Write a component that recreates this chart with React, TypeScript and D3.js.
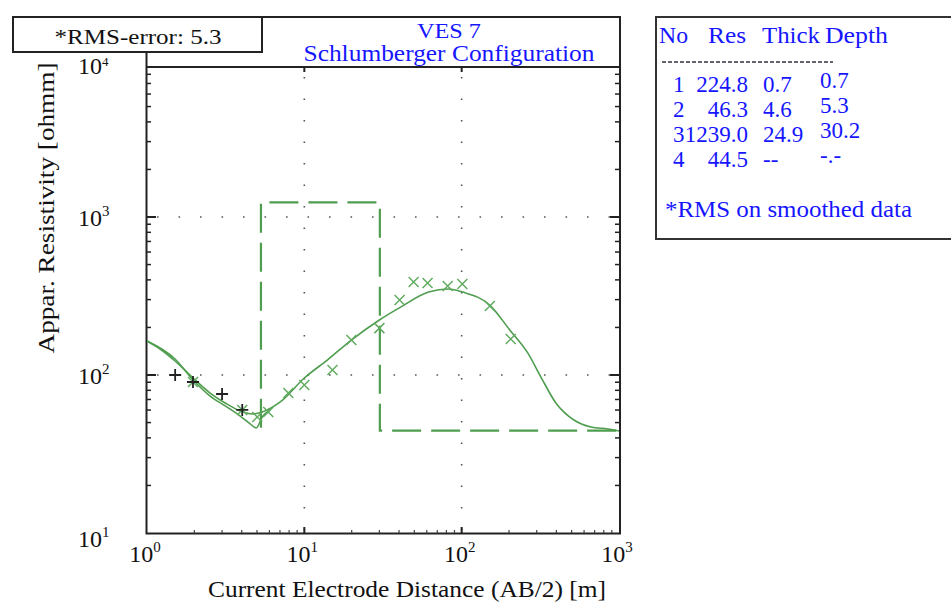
import React from "react";
import * as d3 from "d3";

// ---------- data ----------
const layerNo = [1, 2, 3, 4];
const layerRes = [224.8, 46.3, 1239.0, 44.5];
const layerThick = ["0.7", "4.6", "24.9", "--"];
const layerDepthLabel = ["0.7", "5.3", "30.2", "-.-"];
const layerDepth = [0.7, 5.3, 30.2];

// field data (green x)
const fieldAB = [1.96, 4.03, 5.02, 5.9, 7.91, 10.0, 15.1, 19.9, 30.0, 40.3, 49.5, 60.7, 81.5, 101, 151, 205];
const fieldRho = [90.3, 60.1, 54.2, 58.4, 76.9, 86.5, 107.5, 166.6, 198, 298, 388, 382, 366, 377, 273, 169];

// raw / excluded data (black +)
const rawAB = [1.51, 1.96, 3.0, 4.03];
const rawRho = [100, 90.3, 75.8, 60.1];

// model response curve
const modelAB = [1.0, 1.21, 1.508, 1.963, 2.519, 3.139, 3.912, 4.665, 5.4, 7.03, 10.0, 14.0, 19.9, 30.0, 40.9, 61.6, 82.6, 101.5, 150.8, 202, 263, 319, 397, 517, 663, 851, 1000];
const modelRho = [164.1, 146.1, 122.6, 95.7, 76.9, 66.5, 59.2, 56.6, 58.3, 67.5, 95.7, 124.4, 166.5, 223, 269, 335, 350, 335, 277, 193, 138, 97.1, 66.5, 51.9, 46.9, 45.5, 44.2];

// smoothed data curve (left part)
const smoothAB = [1.0, 1.508, 1.963, 2.519, 3.139, 3.912, 4.53, 4.95, 5.4, 6.07];
const smoothRho = [164.1, 126.3, 93.0, 73.6, 63.7, 55.0, 49.0, 46.2, 54.2, 60.0];

const xMajor = [1, 10, 100, 1000];
const xMajorExp = ["0", "1", "2", "3"];
const yMajor = [10, 100, 1000, 10000];
const yMajorExp = ["1", "2", "3", "4"];

const titleLines = ["VES 7", "Schlumberger Configuration"];
const rmsText = "*RMS-error: 5.3";
const tableHeader = ["No", "Res", "Thick", "Depth"];
const tableNote = "*RMS on smoothed data";
const xTitle = "Current Electrode Distance (AB/2) [m]";
const yTitle = "Appar. Resistivity [ohmm]";

// ---------- layout ----------
const W = 951;
const H = 607;
const L = 147;
const R = 619;
const PT = 67; // plot top (below title band)
const FT = 17; // frame top
const B = 533;

const FONT = "'Liberation Serif', 'Times New Roman', serif";
const BLUE = "#1515ff";
const GREEN = "#4f9d4f";
const GREEN_M = "#62ab62";

export default function App() {
  const x = d3.scaleLog().domain([1, 1000]).range([L, R]);
  const y = d3.scaleLog().domain([10, 10000]).range([B, PT - 8]);

  const minorX: number[] = [];
  for (let dec = 1; dec < 1000; dec *= 10) for (let k = 2; k <= 9; k++) minorX.push(k * dec);
  const minorY: number[] = [];
  for (let dec = 10; dec < 10000; dec *= 10)
    for (let k = 2; k <= 9; k++) if (y(k * dec) > PT + 1) minorY.push(k * dec);

  const lineSmooth = d3
    .line<[number, number]>()
    .x((d) => x(d[0]))
    .y((d) => y(d[1]))
    .curve(d3.curveMonotoneX);
  const lineLin = d3
    .line<[number, number]>()
    .x((d) => x(d[0]))
    .y((d) => y(d[1]));

  const modelPts: [number, number][] = modelAB.map((a, i) => [a, modelRho[i]]);
  const smoothPts: [number, number][] = smoothAB.map((a, i) => [a, smoothRho[i]]);

  // layered model step (visible from depth of layer 2)
  const stepPts: [number, number][] = [
    [layerDepth[1], layerRes[1]],
    [layerDepth[1], layerRes[2]],
    [layerDepth[2], layerRes[2]],
    [layerDepth[2], layerRes[3]],
    [1000, layerRes[3]],
  ];

  const gridX = [10, 100];
  const gridY = [100, 1000];

  const tableRowY = [92, 117, 142, 167];

  return (
    <svg
      width={W}
      height={H}
      style={{ position: "absolute", left: 0, top: 0, background: "#fff" }}
      fontFamily={FONT}
    >
      <rect x={0} y={0} width={W} height={H} fill="#fff" />
      <defs>
        <clipPath id="plot">
          <rect x={L} y={PT} width={R - L} height={B - PT} />
        </clipPath>
      </defs>

      {/* grid */}
      {gridX.map((g) => (
        <line key={"gx" + g} x1={x(g)} x2={x(g)} y1={PT + 10} y2={B} stroke="#555" strokeWidth={1.6} strokeDasharray="1.6 19.9" />
      ))}
      {gridY.map((g) => (
        <line key={"gy" + g} x1={L} x2={R} y1={y(g)} y2={y(g)} stroke="#555" strokeWidth={1.6} strokeDasharray="1.6 19.9" strokeDashoffset={-10} />
      ))}

      {/* frame */}
      <rect x={L - 0.5} y={FT} width={R - L + 1.5} height={B - FT + 0.5} fill="none" stroke="#222" strokeWidth={2} />
      <line x1={L} x2={R + 1} y1={PT} y2={PT} stroke="#222" strokeWidth={2} />

      {/* ticks */}
      {yMajor.filter((v) => y(v) > PT && y(v) < B).map((v) => (
        <g key={"ym" + v}>
          <line x1={L} x2={L + 9} y1={y(v)} y2={y(v)} stroke="#222" strokeWidth={2} />
          <line x1={R - 9} x2={R} y1={y(v)} y2={y(v)} stroke="#222" strokeWidth={2} />
        </g>
      ))}
      {minorY.map((v) => (
        <g key={"yn" + v}>
          <line x1={L} x2={L + 4} y1={y(v)} y2={y(v)} stroke="#222" strokeWidth={1.5} />
          <line x1={R - 4} x2={R} y1={y(v)} y2={y(v)} stroke="#222" strokeWidth={1.5} />
        </g>
      ))}
      {xMajor.filter((v) => x(v) > L && x(v) < R).map((v) => (
        <g key={"xm" + v}>
          <line x1={x(v)} x2={x(v)} y1={B} y2={B - 6} stroke="#222" strokeWidth={2} />
          <line x1={x(v)} x2={x(v)} y1={PT} y2={PT + 5} stroke="#222" strokeWidth={2} />
        </g>
      ))}
      {minorX.map((v) => (
        <line key={"xn" + v} x1={x(v)} x2={x(v)} y1={B} y2={B - 3} stroke="#444" strokeWidth={1.2} />
      ))}

      {/* curves */}
      <g clipPath="url(#plot)">
        <path d={lineLin(stepPts) || ""} fill="none" stroke={GREEN} strokeWidth={2.2} strokeDasharray="29 10" />
        <path d={lineSmooth(smoothPts) || ""} fill="none" stroke={GREEN} strokeWidth={1.6} />
        <path d={lineSmooth(modelPts) || ""} fill="none" stroke={GREEN} strokeWidth={1.6} />
        {fieldAB.map((a, i) => {
          const cx = x(a);
          const cy = y(fieldRho[i]);
          const s = 5;
          return (
            <path
              key={"f" + i}
              d={`M${cx - s},${cy - s}L${cx + s},${cy + s}M${cx - s},${cy + s}L${cx + s},${cy - s}`}
              stroke={GREEN_M}
              strokeWidth={1.5}
              fill="none"
            />
          );
        })}
        {rawAB.map((a, i) => {
          const cx = x(a);
          const cy = y(rawRho[i]);
          const s = 6;
          return (
            <path
              key={"r" + i}
              d={`M${cx - s},${cy}L${cx + s},${cy}M${cx},${cy - s}L${cx},${cy + s}`}
              stroke="#222"
              strokeWidth={1.8}
              fill="none"
            />
          );
        })}
      </g>

      {/* x tick labels */}
      {xMajor.map((v, i) => (
        <text key={"xl" + v} x={x(v) - 2} y={562} fontSize={24} textAnchor="middle" fill="#111">
          10
          <tspan fontSize={15} dy={-10}>
            {xMajorExp[i]}
          </tspan>
        </text>
      ))}
      {/* y tick labels */}
      {yMajor.map((v, i) => (
        <text key={"yl" + v} x={78} y={y(v) + 9 + (i === 0 ? 5 : 0) + (i === 3 ? 6 : 0)} fontSize={24} fill="#111">
          10
          <tspan fontSize={i === 3 ? 13 : 15} dy={i === 3 ? -8 : -10}>
            {yMajorExp[i]}
          </tspan>
        </text>
      ))}

      {/* axis titles */}
      <text x={407} y={597} fontSize={24} textAnchor="middle" fill="#111" textLength={398} lengthAdjust="spacingAndGlyphs">
        {xTitle}
      </text>
      <text
        transform="translate(54,208) rotate(-90)"
        fontSize={24}
        textAnchor="middle"
        fill="#111"
        textLength={291}
        lengthAdjust="spacingAndGlyphs"
      >
        {yTitle}
      </text>

      {/* title */}
      <text x={449} y={38} fontSize={22} textAnchor="middle" fill={BLUE} textLength={64} lengthAdjust="spacingAndGlyphs">
        {titleLines[0]}
      </text>
      <text x={449} y={61} fontSize={23} textAnchor="middle" fill={BLUE} textLength={291} lengthAdjust="spacingAndGlyphs">
        {titleLines[1]}
      </text>

      {/* RMS box */}
      <rect x={13} y={17} width={249} height={35} fill="#fff" stroke="#222" strokeWidth={2} />
      <text x={138} y={44} fontSize={22} textAnchor="middle" fill="#111" textLength={167} lengthAdjust="spacingAndGlyphs">
        {rmsText}
      </text>

      {/* table */}
      <rect x={656} y={17} width={300} height={222} fill="#fff" stroke="#333" strokeWidth={2} />
      <g fill={BLUE} fontSize={23}>
        <text x={659} y={43} textLength={29} lengthAdjust="spacingAndGlyphs">{tableHeader[0]}</text>
        <text x={708} y={43} textLength={38} lengthAdjust="spacingAndGlyphs">{tableHeader[1]}</text>
        <text x={762} y={43} textLength={58} lengthAdjust="spacingAndGlyphs">{tableHeader[2]}</text>
        <text x={825} y={43} textLength={63} lengthAdjust="spacingAndGlyphs">{tableHeader[3]}</text>
        <line x1={662} x2={833} y1={62} y2={62} stroke="#334" strokeWidth={1.5} strokeDasharray="4 2" />
        {layerNo.map((n, i) => (
          <g key={"row" + n}>
            <text x={673} y={tableRowY[i]}>{n}</text>
            <text x={748} y={tableRowY[i]} textAnchor="end">
              {layerRes[i].toFixed(1)}
            </text>
            <text x={763} y={tableRowY[i]}>{layerThick[i]}</text>
            <text x={820} y={tableRowY[i] - 4}>{layerDepthLabel[i]}</text>
          </g>
        ))}
        <text x={665} y={217} textLength={247} lengthAdjust="spacingAndGlyphs">{tableNote}</text>
      </g>
    </svg>
  );
}
